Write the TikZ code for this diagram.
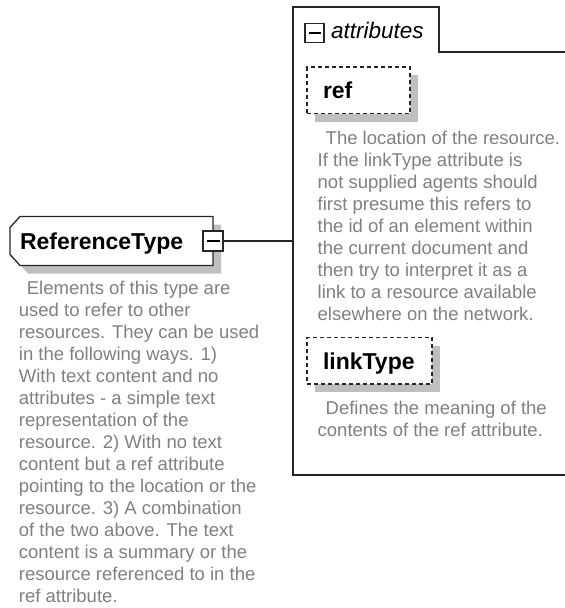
\documentclass[tikz,border=0pt]{standalone}
\usepackage{fontspec}
\setmainfont{Liberation Sans}
\usetikzlibrary{shadows,backgrounds}

\tikzset{
  title/.style={font=\fontsize{23}{27}\selectfont\bfseries,text height=16.5pt,text depth=0pt,
    inner ysep=0pt,outer sep=0pt,align=left},
  typebox/.style={title,anchor=west,minimum height=49pt,inner xsep=10pt,text width=183pt},
  typeborder/.style={draw=black!85,line width=1.3pt,fill=white,
    drop shadow={shadow xshift=8pt,shadow yshift=-8pt,fill=black!25,opacity=1}},
  attrbox/.style={title,draw=black!85,line width=1.3pt,dash pattern=on 4pt off 3pt,fill=white,
    drop shadow={shadow xshift=8pt,shadow yshift=-8pt,fill=black!25,opacity=1},
    anchor=north west,inner xsep=16pt,minimum height=46.5pt},
  toggle/.style={draw=black!85,line width=1.3pt,fill=white,minimum size=19pt,inner sep=0pt,outer sep=0pt},
  grouplabel/.style={font=\fontsize{22.5}{26}\selectfont\itshape,inner sep=0pt,anchor=base west},
  note/.style={font=\fontsize{18.5}{22}\selectfont,text=black!50,align=left,inner sep=0pt,anchor=base west},
  frame/.style={draw=black!85,line width=1.4pt}
}

\begin{document}
\begin{tikzpicture}[x=1pt,y=-1pt]
  \useasboundingbox (0,0) rectangle (565,608);

  \coordinate (attrsw) at (293,475);
  \coordinate (attrnw) at (293,7);
  \coordinate (tabne) at (439,7);
  \coordinate (tabse) at (439,52);
  \coordinate (attrne) at (566,52);
  \coordinate (attrse) at (566,475);
  \draw[frame] (attrse) -- (attrsw) -- (attrnw) -- (tabne) -- (tabse) -- (attrne);

  \node[toggle] (attrtoggle) at (314.5,33) {};
  \draw[line width=1.3pt] ([xshift=3.5pt]attrtoggle.west) -- ([xshift=-3.5pt]attrtoggle.east);
  \node[grouplabel] (attrlabel) at (331,38.5) {attributes};

  \node[typebox] (reftype) at (10,241) {ReferenceType};
  \begin{scope}[on background layer]
    \draw[typeborder] ([xshift=10pt]reftype.north west) -- (reftype.north east) -- (reftype.south east)
      -- ([xshift=10pt]reftype.south west) -- ([yshift=11pt]reftype.south west)
      -- ([yshift=-11pt]reftype.north west) -- cycle;
  \end{scope}
  \node[toggle,minimum size=20pt] (reftoggle) at (reftype.east) {};
  \draw[line width=1.3pt] ([xshift=3.5pt]reftoggle.west) -- ([xshift=-3.5pt]reftoggle.east);
  \draw[frame] (reftoggle.east) -- (reftoggle.east -| attrnw);

  \node[note] (reftypenote) at (18.7,602) {\hspace*{8pt}Elements of this type are\\
    used to refer to other\\
    resources. They can be used\\
    in the following ways. 1)\\
    With text content and no\\
    attributes - a simple text\\
    representation of the\\
    resource. 2) With no text\\
    content but a ref attribute\\
    pointing to the location or the\\
    resource. 3) A combination\\
    of the two above. The text\\
    content is a summary or the\\
    resource referenced to in the\\
    ref attribute.};

  \node[attrbox,text width=71pt] (refattr) at (307,67) {ref};
  \node[note] (refnote) at (317.5,320) {\hspace*{8pt}The location of the resource.\\
    If the linkType attribute is\\
    not supplied agents should\\
    first presume this refers to\\
    the id of an element within\\
    the current document and\\
    then try to interpret it as a\\
    link to a resource available\\
    elsewhere on the network.};

  \node[attrbox,text width=93pt] (linkattr) at (307,337.5) {linkType};
  \node[note] (linknote) at (317.5,436.5) {\hspace*{8pt}Defines the meaning of the\\
    contents of the ref attribute.};
\end{tikzpicture}
\end{document}
